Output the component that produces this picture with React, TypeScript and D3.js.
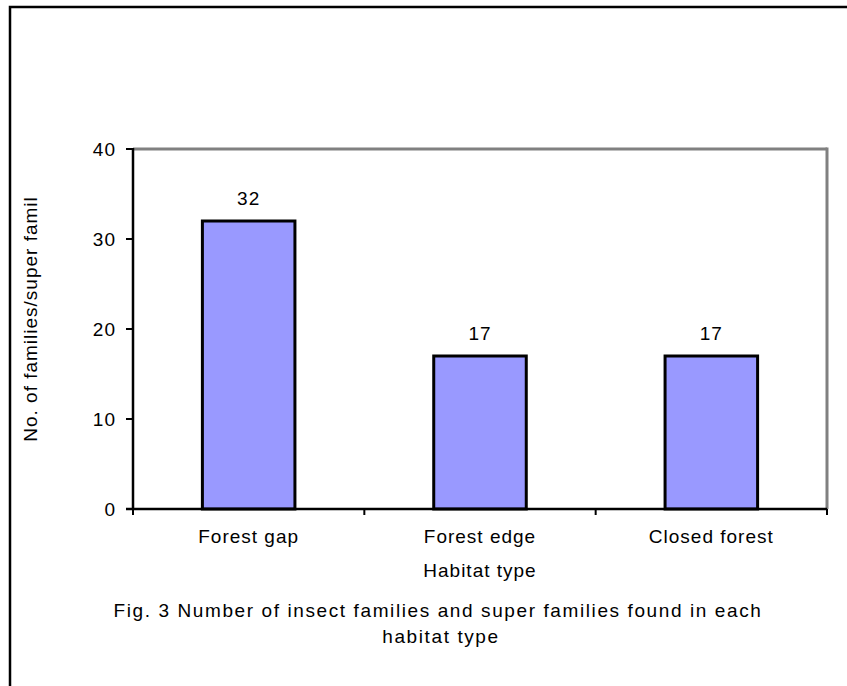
import React from "react";
import * as d3 from "d3";

const categories: string[] = ["Forest gap", "Forest edge", "Closed forest"];
const familyCounts: number[] = [32, 17, 17];
const yTicks: number[] = [0, 10, 20, 30, 40];

const xTitle = "Habitat type";
const yTitle = "No. of families/super famil";
const captionLines: string[] = [
  "Fig. 3 Number of insect families and super families found in each",
  "habitat type",
];

const W = 847;
const H = 686;
const plot = { left: 133, top: 149, right: 827, bottom: 509 };
const FONT = "'Liberation Sans', Arial, sans-serif";
const FS = 19;
const LS = 1;

export default function App() {
  const x = d3
    .scaleBand<string>()
    .domain(categories)
    .range([plot.left, plot.right])
    .padding(0);
  const y = d3.scaleLinear().domain([0, 40]).range([plot.bottom, plot.top]);
  const barW = x.bandwidth() * 0.4;
  const midX = (plot.left + plot.right) / 2;

  // category boundary ticks on the x axis
  const boundaries = d3.range(categories.length + 1).map((i) => plot.left + i * x.step());

  return (
    <svg
      width={W}
      height={H}
      style={{ position: "absolute", left: 0, top: 0, background: "#fff" }}
      fontFamily={FONT}
    >
      <rect x={0} y={0} width={W} height={H} fill="#fff" />
      {/* outer frame */}
      <rect x={10} y={7} width={W + 20} height={H + 20} fill="none" stroke="#000" strokeWidth={2.5} />

      {/* plot frame: grey top and right */}
      <line x1={plot.left} x2={plot.right} y1={plot.top} y2={plot.top} stroke="#808080" strokeWidth={3} />
      <line x1={plot.right} x2={plot.right} y1={plot.top - 1.5} y2={plot.bottom} stroke="#808080" strokeWidth={3} />

      {/* bars */}
      {categories.map((c, i) => {
        const cx = (x(c) as number) + x.bandwidth() / 2;
        const v = familyCounts[i];
        return (
          <g key={c}>
            <rect
              x={cx - barW / 2}
              y={y(v)}
              width={barW}
              height={y(0) - y(v)}
              fill="#9999FF"
              stroke="#000"
              strokeWidth={3}
            />
            <text x={cx} y={y(v) - 16} textAnchor="middle" fontSize={FS} letterSpacing={LS} fill="#000">
              {v}
            </text>
            <text x={cx} y={543} textAnchor="middle" fontSize={FS} letterSpacing={LS} fill="#000">
              {c}
            </text>
          </g>
        );
      })}

      {/* y axis */}
      <line x1={plot.left} x2={plot.left} y1={plot.top - 1} y2={plot.bottom + 1} stroke="#000" strokeWidth={2.5} />
      {yTicks.map((t) => (
        <g key={t}>
          <line x1={plot.left - 7} x2={plot.left} y1={y(t)} y2={y(t)} stroke="#000" strokeWidth={2} />
          <text x={116} y={y(t) + 7} textAnchor="end" fontSize={FS} letterSpacing={LS} fill="#000">
            {t}
          </text>
        </g>
      ))}

      {/* x axis */}
      <line x1={plot.left - 7} x2={plot.right} y1={plot.bottom} y2={plot.bottom} stroke="#000" strokeWidth={2.5} />
      {boundaries.map((bx, i) => (
        <line key={i} x1={bx} x2={bx} y1={plot.bottom} y2={plot.bottom + 6} stroke="#000" strokeWidth={2} />
      ))}

      {/* axis titles */}
      <text x={midX} y={577} textAnchor="middle" fontSize={FS} letterSpacing={LS} fill="#000">
        {xTitle}
      </text>
      <text
        transform={`translate(37, 319) rotate(-90)`}
        textAnchor="middle"
        fontSize={FS}
        letterSpacing={LS}
        fill="#000"
      >
        {yTitle}
      </text>

      {/* caption */}
      <text x={438} y={617} textAnchor="middle" fontSize={FS} fill="#000" letterSpacing={1.6}>
        {captionLines[0]}
      </text>
      <text x={441} y={643} textAnchor="middle" fontSize={FS} fill="#000" letterSpacing={1.6}>
        {captionLines[1]}
      </text>
    </svg>
  );
}
